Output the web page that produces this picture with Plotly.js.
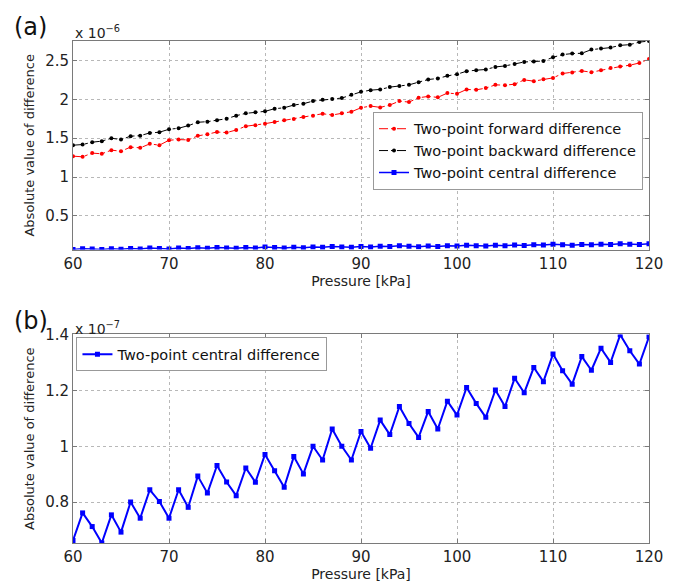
<!DOCTYPE html>
<html>
<head>
<meta charset="utf-8">
<script src="https://cdn.plot.ly/plotly-3.0.1.min.js"></script>
<style>
  html, body { margin: 0; padding: 0; background: #fff; }
  #chart { width: 679px; height: 584px; }
</style>
</head>
<body>
<div id="chart"></div>
<script>
// Pressure [kPa]
const pressure = [60,61,62,63,64,65,66,67,68,69,70,71,72,73,74,75,76,77,78,79,80,81,82,83,84,85,86,87,88,89,90,91,92,93,94,95,96,97,98,99,100,101,102,103,104,105,106,107,108,109,110,111,112,113,114,115,116,117,118,119,120];

// Two-point forward difference (x 1e-6)
const forwardDiff = [1.269,1.26,1.308,1.299,1.346,1.333,1.385,1.376,1.427,1.41,1.474,1.482,1.478,1.53,1.551,1.58,
  1.572,1.606,1.654,1.667,1.687,1.709,1.731,1.747,1.773,1.79,1.815,1.799,1.82,1.841,1.892,
  1.914,1.897,1.927,1.978,1.965,2.021,2.038,2.026,2.081,2.072,2.128,2.123,2.145,2.187,2.183,
  2.196,2.251,2.235,2.26,2.277,2.333,2.346,2.367,2.35,2.376,2.405,2.423,2.44,2.469,2.52];

// Two-point backward difference (x 1e-6)
const backwardDiff = [1.41,1.418,1.449,1.462,1.5,1.482,1.526,1.533,1.568,1.577,1.615,1.628,1.662,1.705,1.713,1.731,
  1.751,1.79,1.82,1.833,1.846,1.88,1.892,1.927,1.944,1.978,1.995,2.004,2.017,2.06,2.097,
  2.119,2.128,2.158,2.171,2.187,2.222,2.256,2.269,2.303,2.324,2.363,2.376,2.385,2.418,2.431,
  2.456,2.482,2.487,2.495,2.542,2.577,2.59,2.594,2.641,2.654,2.667,2.696,2.705,2.738,2.751];

// Two-point central difference (x 1e-7)
const centralDiff = [0.662,0.761,0.712,0.653,0.754,0.692,0.8,0.742,0.844,0.802,
  0.742,0.844,0.781,0.893,0.832,0.931,0.872,0.823,0.922,0.871,
  0.971,0.912,0.853,0.963,0.901,1.0,0.951,1.062,1.0,0.951,
  1.053,0.993,1.094,1.042,1.143,1.082,1.032,1.125,1.062,1.162,
  1.112,1.211,1.154,1.104,1.202,1.143,1.244,1.192,1.283,1.232,
  1.331,1.271,1.223,1.322,1.273,1.352,1.301,1.4,1.343,1.295,1.393];

// central difference expressed in units of 1e-6 for panel (a)
const centralDiffA = centralDiff.map(v => v / 10);

const xTickVals = [60,70,80,90,100,110,120];
const xTickText = ['60','70','80','90','100','110','120'];
const yTickValsA = [0.5,1,1.5,2,2.5];
const yTickTextA = ['0.5','1','1.5','2','2.5'];
const yTickValsB = [0.8,1,1.2,1.4];
const yTickTextB = ['0.8','1','1.2','1.4'];

const labelForward = 'Two-point forward difference';
const labelBackward = 'Two-point backward difference';
const labelCentral = 'Two-point central difference';

const FONT = '"DejaVu Sans", "Noto Sans", sans-serif';
const TXT = '#222';
const AX = '#7a7a7a';
const GRID = '#b8b8b8';

const traces = [
  { x: pressure, y: forwardDiff, name: labelForward, type: 'scatter', mode: 'lines+markers',
    xaxis: 'x', yaxis: 'y', legend: 'legend',
    line: { color: '#ff0000', width: 1, dash: 'dashdot' }, marker: { color: '#ff0000', size: 4, symbol: 'circle' } },
  { x: pressure, y: backwardDiff, name: labelBackward, type: 'scatter', mode: 'lines+markers',
    xaxis: 'x', yaxis: 'y', legend: 'legend',
    line: { color: '#000000', width: 1, dash: 'dashdot' }, marker: { color: '#000000', size: 4, symbol: 'circle' } },
  { x: pressure, y: centralDiffA, name: labelCentral, type: 'scatter', mode: 'lines+markers',
    xaxis: 'x', yaxis: 'y', legend: 'legend',
    line: { color: '#0000ff', width: 1.5 }, marker: { color: '#0000ff', size: 5, symbol: 'square' } },
  { x: pressure, y: centralDiff, name: labelCentral, type: 'scatter', mode: 'lines+markers',
    xaxis: 'x2', yaxis: 'y2', legend: 'legend2',
    line: { color: '#0000ff', width: 2 }, marker: { color: '#0000ff', size: 5, symbol: 'square' } }
];

function xAxis(anchor) {
  return {
    anchor: anchor, domain: [0, 1], range: [60, 120],
    tickvals: xTickVals, ticktext: xTickText,
    tickfont: { family: FONT, size: 15, color: TXT },
    title: { text: 'Pressure [kPa]', font: { family: FONT, size: 14, color: TXT }, standoff: 1 },
    showline: true, linecolor: AX, linewidth: 1, mirror: 'ticks',
    ticks: 'inside', ticklen: 4, tickcolor: AX,
    showgrid: true, gridcolor: GRID, griddash: 'dot', gridwidth: 1,
    zeroline: false, automargin: false
  };
}
function yAxis(anchor, domain, range, tv, tt) {
  return {
    anchor: anchor, domain: domain, range: range,
    tickvals: tv, ticktext: tt,
    tickfont: { family: FONT, size: 15, color: TXT },
    title: { text: 'Absolute value of difference', font: { family: FONT, size: 13, color: TXT }, standoff: 7 },
    showline: true, linecolor: AX, linewidth: 1, mirror: 'ticks',
    ticks: 'inside', ticklen: 4, tickcolor: AX,
    showgrid: true, gridcolor: GRID, griddash: 'dot', gridwidth: 1,
    zeroline: false, automargin: false
  };
}

const layout = {
  width: 679, height: 584,
  margin: { l: 73, r: 30, t: 41, b: 41 },
  paper_bgcolor: '#ffffff', plot_bgcolor: '#ffffff',
  font: { family: FONT, color: TXT },
  showlegend: true,
  xaxis: xAxis('y'),
  yaxis: yAxis('x', [0.5845, 1], [0.0653, 2.752], yTickValsA, yTickTextA),
  xaxis2: xAxis('y2'),
  yaxis2: yAxis('x2', [0, 0.4155], [0.653, 1.4015], yTickValsB, yTickTextB),
  legend: {
    x: 0.9896, xanchor: 'right', y: 0.859, yanchor: 'top',
    bgcolor: '#ffffff', bordercolor: '#999', borderwidth: 1,
    font: { family: FONT, size: 14.5, color: '#111' }, itemwidth: 30, tracegroupgap: 0
  },
  legend2: {
    x: 0.006, xanchor: 'left', y: 0.4095, yanchor: 'top',
    bgcolor: '#ffffff', bordercolor: '#999', borderwidth: 1,
    font: { family: FONT, size: 14.5, color: '#111' }, itemwidth: 30
  },
  annotations: [
    { text: '(a)', xref: 'paper', yref: 'paper', x: -0.073, y: 1.028, xanchor: 'center', yanchor: 'middle',
      showarrow: false, font: { family: FONT, size: 24, color: '#111' } },
    { text: '(b)', xref: 'paper', yref: 'paper', x: -0.073, y: 0.443, xanchor: 'center', yanchor: 'middle',
      showarrow: false, font: { family: FONT, size: 24, color: '#111' } },
    { text: 'x 10<sup>−6</sup>', xref: 'paper', yref: 'paper', x: 0, y: 1.018, xanchor: 'left', yanchor: 'middle',
      showarrow: false, font: { family: FONT, size: 14, color: TXT } },
    { text: 'x 10<sup>−7</sup>', xref: 'paper', yref: 'paper', x: 0, y: 0.428, xanchor: 'left', yanchor: 'middle',
      showarrow: false, font: { family: FONT, size: 14, color: TXT } }
  ]
};

Plotly.newPlot('chart', traces, layout, { displayModeBar: false, staticPlot: true });
</script>
</body>
</html>
